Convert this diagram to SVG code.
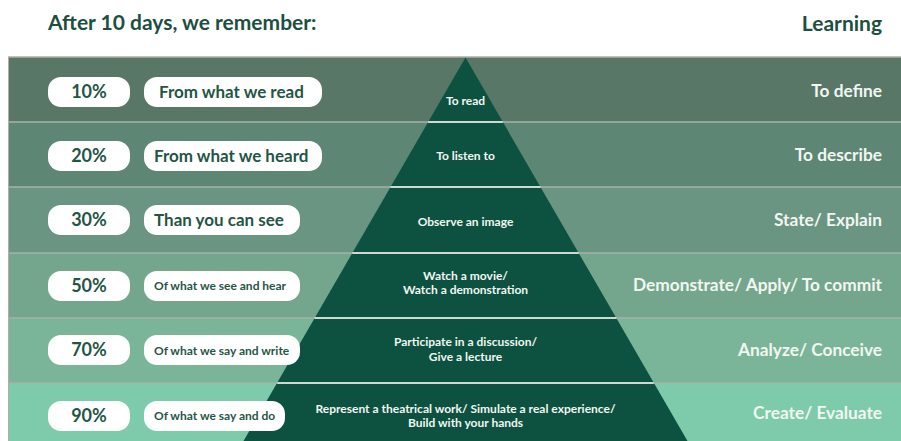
<svg xmlns="http://www.w3.org/2000/svg" width="901" height="441" viewBox="0 0 901 441">
<style>
text{font-family:Lato,"Open Sans","Liberation Sans",sans-serif;font-weight:700}
.title{font-size:21px;fill:#1d4f41}
.pill{fill:#ffffff}
.pct{font-size:18px;fill:#1f5646;text-anchor:middle}
.lbl{font-size:17px;fill:#1f5646}
.lbls{font-size:12px;fill:#1f5646}
.rt{font-size:17.3px;fill:#f2f6f1;text-anchor:end}
.pt{font-size:12px;fill:#f2f6f1;text-anchor:middle}
.sep{stroke:#a6b2aa;stroke-width:1.5}
.wsep{stroke:#e8efe9;stroke-width:1.5}
</style>
<rect x="0" y="0" width="901" height="441" fill="#ffffff"/>
<text class="title" x="48" y="30">After 10 days, we remember:</text>
<text class="title" x="882" y="31" text-anchor="end">Learning</text>

<g id="bands">
<rect x="8" y="57" width="893" height="65" fill="#587766"/>
<rect x="8" y="122" width="893" height="65" fill="#5e8674"/>
<rect x="8" y="187" width="893" height="66" fill="#699582"/>
<rect x="8" y="253" width="893" height="65" fill="#74a68e"/>
<rect x="8" y="318" width="893" height="65" fill="#7ab59a"/>
<rect x="8" y="383" width="893" height="58" fill="#7ecbac"/>
<line x1="8" y1="57" x2="901" y2="57" stroke="#b3aaaa" stroke-width="1.5"/>
<line x1="8.5" y1="57" x2="8.5" y2="441" stroke="#b3aaaa" stroke-width="1"/>
</g>

<g id="pyramid">
<polygon points="465.5,57.5 687.5,441 243.5,441" fill="#0d5240"/>
</g>

<g id="separators">
<line class="sep" x1="8" y1="122" x2="901" y2="122"/>
<line class="sep" x1="8" y1="187" x2="901" y2="187"/>
<line class="sep" x1="8" y1="253" x2="901" y2="253"/>
<line class="sep" x1="8" y1="318" x2="901" y2="318"/>
<line class="sep" x1="8" y1="383" x2="901" y2="383"/>
<line class="wsep" x1="428.2" y1="122" x2="502.8" y2="122"/>
<line class="wsep" x1="390.5" y1="187" x2="540.5" y2="187"/>
<line class="wsep" x1="352.3" y1="253" x2="578.7" y2="253"/>
<line class="wsep" x1="314.7" y1="318" x2="616.3" y2="318"/>
<line class="wsep" x1="277.3" y1="383" x2="653.7" y2="383"/>
</g>

<g id="row1">
<rect class="pill" x="48" y="77" width="82" height="30" rx="13"/>
<text class="pct" x="89" y="98">10%</text>
<rect class="pill" x="144" y="77" width="178" height="30" rx="13"/>
<text class="lbl" x="159" y="98">From what we read</text>
<text class="pt" x="465.5" y="105">To read</text>
<text class="rt" x="882" y="97">To define</text>
</g>

<g id="row2">
<rect class="pill" x="48" y="141" width="82" height="30" rx="13"/>
<text class="pct" x="89" y="162">20%</text>
<rect class="pill" x="144" y="141" width="178" height="30" rx="13"/>
<text class="lbl" x="154" y="162">From what we heard</text>
<text class="pt" x="465.5" y="160">To listen to</text>
<text class="rt" x="882" y="161">To describe</text>
</g>

<g id="row3">
<rect class="pill" x="48" y="205" width="82" height="30" rx="13"/>
<text class="pct" x="89" y="226">30%</text>
<rect class="pill" x="144" y="205" width="156" height="30" rx="13"/>
<text class="lbl" x="154" y="226">Than you can see</text>
<text class="pt" x="465.5" y="226">Observe an image</text>
<text class="rt" x="882" y="226">State/ Explain</text>
</g>

<g id="row4">
<rect class="pill" x="48" y="271" width="82" height="30" rx="13"/>
<text class="pct" x="89" y="292">50%</text>
<rect class="pill" x="144" y="271" width="156" height="30" rx="13"/>
<text class="lbls" x="154" y="290">Of what we see and hear</text>
<text class="pt" x="465.5" y="280">Watch a movie/</text>
<text class="pt" x="465.5" y="294">Watch a demonstration</text>
<text class="rt" x="882" y="291">Demonstrate/ Apply/ To commit</text>
</g>

<g id="row5">
<rect class="pill" x="48" y="335" width="82" height="30" rx="13"/>
<text class="pct" x="89" y="356">70%</text>
<rect class="pill" x="144" y="335" width="156" height="30" rx="13"/>
<text class="lbls" x="154" y="355">Of what we say and write</text>
<text class="pt" x="465.5" y="346">Participate in a discussion/</text>
<text class="pt" x="465.5" y="361">Give a lecture</text>
<text class="rt" x="882" y="356">Analyze/ Conceive</text>
</g>

<g id="row6">
<rect class="pill" x="48" y="401" width="82" height="30" rx="13"/>
<text class="pct" x="89" y="422">90%</text>
<rect class="pill" x="144" y="401" width="141" height="30" rx="13"/>
<text class="lbls" x="154" y="420">Of what we say and do</text>
<text class="pt" x="465.5" y="413">Represent a theatrical work/ Simulate a real experience/</text>
<text class="pt" x="465.5" y="427">Build with your hands</text>
<text class="rt" x="882" y="419">Create/ Evaluate</text>
</g>
</svg>
